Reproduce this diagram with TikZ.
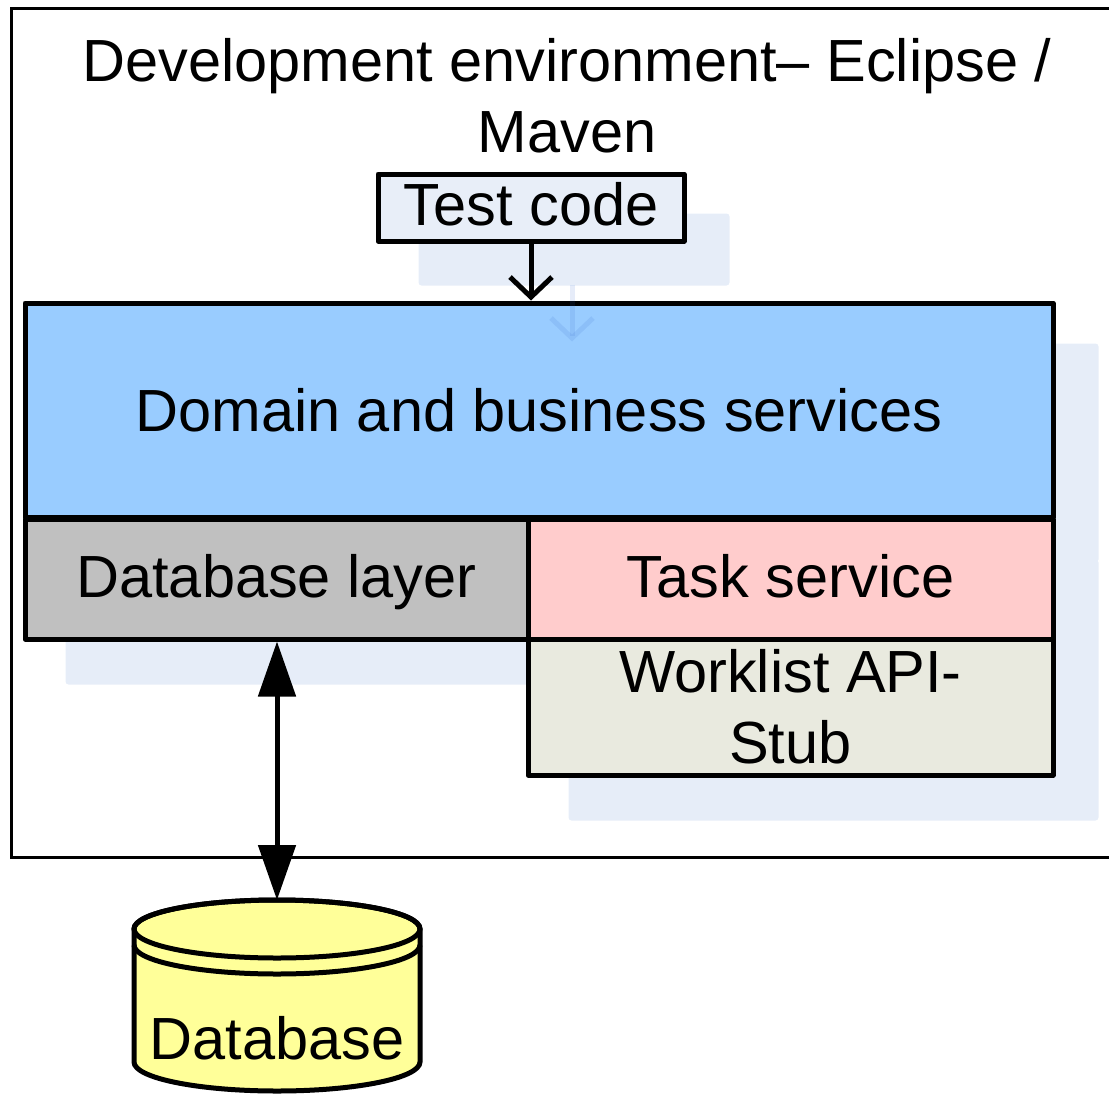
\documentclass[tikz,border=0pt]{standalone}
\usepackage{fontspec}
\setmainfont{Liberation Sans}
\usetikzlibrary{arrows.meta,calc,backgrounds}
\definecolor{domainc}{HTML}{99CCFF}
\definecolor{dblc}{HTML}{C0C0C0}
\definecolor{taskc}{HTML}{FFCCCC}
\definecolor{stubc}{HTML}{E9EADF}
\definecolor{testc}{HTML}{E8EEF8}
\definecolor{cylc}{HTML}{FFFF99}
\definecolor{shadowc}{HTML}{E6EDF8}
\definecolor{shadowarr}{HTML}{3366CC}
\begin{document}
\begin{tikzpicture}[x=1pt,y=-1pt,
  font=\fontsize{59.5}{71}\selectfont,
  box/.style={draw, line width=5pt, line join=round, inner sep=0pt, align=center},
  onebox/.style={box, text height=43pt, text depth=0pt},
  shadowbox/.style={fill=shadowc, rounded corners=3pt},
  plainarrow/.style={line width=5pt, -{Straight Barb[length=20pt,width=42pt]}},
  ghostarrow/.style={line width=5pt, draw=shadowarr, opacity=0.12, -{Straight Barb[length=20pt,width=42pt]}},
  dblarrow/.style={line width=5pt, {Triangle[length=55pt,width=37pt]}-{Triangle[length=55pt,width=37pt]}},
  cyl/.style={line width=5pt, draw=black}]
\useasboundingbox (0,0) rectangle (1109,1095);
\clip (0,0) rectangle (1109,1095);

% outer frame
\draw[line width=3pt] (11,8) rectangle (1130,857);
\node[anchor=north, inner sep=0pt, align=center] (title) at (567,38) {Development environment-- Eclipse /\\Maven};

% boxes
\node[onebox, text depth=8pt, fill=testc, minimum width=306pt, minimum height=67pt] (test) at (531,207.5) {Test code};
\node[onebox, fill=domainc, minimum width=1028pt, minimum height=214pt] (domain) at (539,410) {Domain and business services};
\node[onebox, text depth=6pt, fill=dblc, minimum width=503pt, minimum height=120pt] (dbl) at (276.5,579) {Database layer};
\node[onebox, text depth=6pt, fill=taskc, minimum width=525pt, minimum height=120pt] (task) at (790.5,579) {Task service};
\node[box, fill=stubc, minimum width=525pt, minimum height=136pt] (stub) at (790.5,707) {Worklist API-\\Stub};

% shadows
\begin{scope}[on background layer]
  \fill[shadowbox] ($(test.north west)+(43,42)$) rectangle ($(test.south east)+(43,42)$);
  \fill[shadowbox] ($(domain.north west)+(43,43)$) rectangle ($(domain.south east)+(43,43)$);
  \fill[shadowbox] ($(dbl.north west)+(43,43)$) rectangle ($(dbl.south east)+(43,43)$);
  \fill[shadowbox] ($(task.north west)+(43,43)$) rectangle ($(task.south east)+(43,43)$);
  \fill[shadowbox] ($(stub.north west)+(43,43)$) rectangle ($(stub.south east)+(43,43)$);
\end{scope}

% arrows
\draw[plainarrow] (test.south) -- (test.south |- domain.north);
\draw[ghostarrow] ($(test.south)+(41,41)$) -- ($(test.south |- domain.north)+(41,41)$);

% database cylinder
\coordinate (dbtop) at (277,900);
\filldraw[cyl, fill=cylc] (134,929) -- (134,1062) arc[start angle=180, end angle=0, x radius=143, y radius=29] -- (420,929) arc[start angle=0, end angle=-180, x radius=143, y radius=29] -- cycle;
\draw[cyl] (277,929) ellipse [x radius=143, y radius=29];
\draw[cyl] (134,945) arc[start angle=180, end angle=0, x radius=143, y radius=29];
\node[inner sep=0pt] (db) at (277,1038) {Database};

\draw[dblarrow] (dbl.south -| dbtop) -- (dbtop);
\end{tikzpicture}
\end{document}
